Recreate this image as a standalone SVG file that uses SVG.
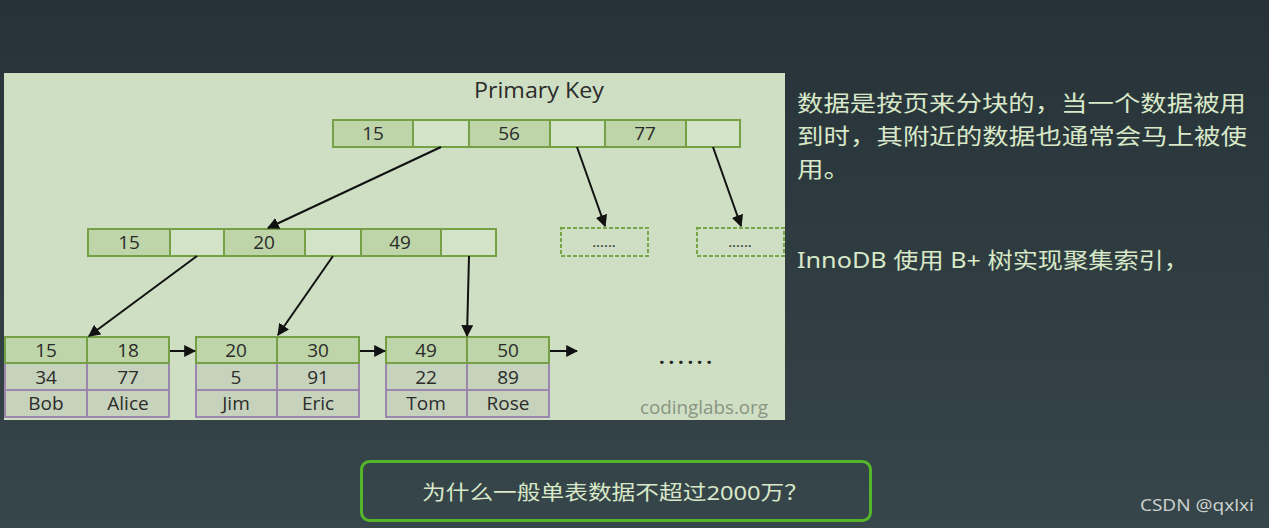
<svg xmlns="http://www.w3.org/2000/svg" width="1269" height="528" viewBox="0 0 1269 528">
<defs>
<linearGradient id="bg" x1="0" y1="0" x2="0" y2="1">
<stop offset="0" stop-color="#263237"/>
<stop offset="1" stop-color="#37464a"/>
</linearGradient>
<marker id="ah" viewBox="0 0 10 10" refX="9" refY="5" markerWidth="6" markerHeight="6" orient="auto" markerUnits="strokeWidth">
<path d="M0,0 L10,5 L0,10 z" fill="#111"/>
</marker>
<style>
.k{fill:#bdd5a8;stroke:#76a045;stroke-width:2}
.e{fill:#d3e3c8;stroke:#76a045;stroke-width:2}
.p{fill:#c6d2bc;stroke:#9b87ad;stroke-width:2}
.d{fill:none;stroke:#7aa64a;stroke-width:2;stroke-dasharray:4 2}
.t{font-family:"Open Sans","Noto Sans",sans-serif;font-size:19px;fill:#2b2b2b;text-anchor:middle}
.dt{font-family:"Open Sans","Noto Sans",sans-serif;font-size:15px;fill:#2b2b2b;text-anchor:middle}
.ln{stroke:#111;stroke-width:2;fill:none;marker-end:url(#ah)}
.cn{font-family:"Noto Sans","Noto Sans CJK SC",sans-serif;font-size:22px;fill:#d8e8c8}
</style>
</defs>
<rect width="1269" height="528" fill="url(#bg)"/>
<rect x="4" y="73" width="781" height="347" fill="#cfdfc3"/>
<text x="474" y="98" font-family="'Open Sans','Noto Sans',sans-serif" font-size="22" fill="#2b2b2b" textLength="130" lengthAdjust="spacingAndGlyphs">Primary Key</text>
<g id="root">
<rect class="k" x="333" y="120" width="80" height="27"/><rect class="e" x="413" y="120" width="56" height="27"/>
<rect class="k" x="469" y="120" width="81" height="27"/><rect class="e" x="550" y="120" width="55" height="27"/>
<rect class="k" x="605" y="120" width="81" height="27"/><rect class="e" x="686" y="120" width="54" height="27"/>
<text class="t" x="373" y="140">15</text><text class="t" x="509" y="140">56</text><text class="t" x="645" y="140">77</text>
</g>
<g id="mid">
<rect class="k" x="88" y="229" width="82" height="27"/><rect class="e" x="170" y="229" width="54" height="27"/>
<rect class="k" x="224" y="229" width="81" height="27"/><rect class="e" x="305" y="229" width="56" height="27"/>
<rect class="k" x="361" y="229" width="80" height="27"/><rect class="e" x="441" y="229" width="55" height="27"/>
<text class="t" x="129" y="249">15</text><text class="t" x="264" y="249">20</text><text class="t" x="400" y="249">49</text>
</g>
<g id="dash1"><rect class="d" x="561" y="228" width="87" height="28"/><text class="dt" x="604" y="247">......</text></g>
<g id="dash2"><rect class="d" x="697" y="228" width="87" height="28"/><text class="dt" x="740" y="247">......</text></g>
<g id="leaf1">
<rect class="p" x="5" y="363" width="82" height="27"/><rect class="p" x="87" y="363" width="82" height="27"/>
<rect class="p" x="5" y="390" width="82" height="27"/><rect class="p" x="87" y="390" width="82" height="27"/>
<rect class="k" x="5" y="337" width="82" height="26"/><rect class="k" x="87" y="337" width="82" height="26"/>
<text class="t" x="46" y="357">15</text><text class="t" x="128" y="357">18</text>
<text class="t" x="46" y="384">34</text><text class="t" x="128" y="384">77</text>
<text class="t" x="46" y="410">Bob</text><text class="t" x="128" y="410">Alice</text>
</g>
<g id="leaf2">
<rect class="p" x="196" y="363" width="81" height="27"/><rect class="p" x="277" y="363" width="82" height="27"/>
<rect class="p" x="196" y="390" width="81" height="27"/><rect class="p" x="277" y="390" width="82" height="27"/>
<rect class="k" x="196" y="337" width="81" height="26"/><rect class="k" x="277" y="337" width="82" height="26"/>
<text class="t" x="236" y="357">20</text><text class="t" x="318" y="357">30</text>
<text class="t" x="236" y="384">5</text><text class="t" x="318" y="384">91</text>
<text class="t" x="236" y="410">Jim</text><text class="t" x="318" y="410">Eric</text>
</g>
<g id="leaf3">
<rect class="p" x="386" y="363" width="81" height="27"/><rect class="p" x="467" y="363" width="82" height="27"/>
<rect class="p" x="386" y="390" width="81" height="27"/><rect class="p" x="467" y="390" width="82" height="27"/>
<rect class="k" x="386" y="337" width="81" height="26"/><rect class="k" x="467" y="337" width="82" height="26"/>
<text class="t" x="426" y="357">49</text><text class="t" x="508" y="357">50</text>
<text class="t" x="426" y="384">22</text><text class="t" x="508" y="384">89</text>
<text class="t" x="426" y="410">Tom</text><text class="t" x="508" y="410">Rose</text>
</g>
<g id="connectors">
<line class="ln" x1="441" y1="147" x2="268" y2="228"/>
<line class="ln" x1="577" y1="147" x2="605" y2="226"/>
<line class="ln" x1="713" y1="147" x2="741" y2="226"/>
<line class="ln" x1="197" y1="256" x2="89" y2="336"/>
<line class="ln" x1="333" y1="256" x2="278" y2="335"/>
<line class="ln" x1="469" y1="256" x2="467" y2="336"/>
<line class="ln" x1="170" y1="351" x2="195" y2="351"/>
<line class="ln" x1="360" y1="351" x2="385" y2="351"/>
<line class="ln" x1="550" y1="351" x2="577" y2="351"/>
</g>
<text x="659" y="364" font-family="'Open Sans',sans-serif" font-size="20" font-weight="bold" fill="#222" textLength="53" lengthAdjust="spacing">......</text>
<text x="640" y="414" font-family="'Open Sans',sans-serif" font-size="18" fill="#8a9484" textLength="128" lengthAdjust="spacingAndGlyphs">codinglabs.org</text>
<text class="cn" x="797" y="111" textLength="449" lengthAdjust="spacingAndGlyphs">数据是按页来分块的，当一个数据被用</text>
<text class="cn" x="797" y="144" textLength="450" lengthAdjust="spacingAndGlyphs">到时，其附近的数据也通常会马上被使</text>
<text class="cn" x="797" y="177" textLength="53" lengthAdjust="spacingAndGlyphs">用。</text>
<text class="cn" x="797" y="268" textLength="392" lengthAdjust="spacingAndGlyphs">InnoDB 使用 B+ 树实现聚集索引，</text>
<g id="question">
<rect x="361.5" y="461.5" width="509" height="59" rx="8" fill="none" stroke="#52b52a" stroke-width="3"/>
<text x="422" y="500" font-family="'Noto Sans','Noto Sans CJK SC',sans-serif" font-size="20" fill="#d8e8c8" textLength="386" lengthAdjust="spacingAndGlyphs">为什么一般单表数据不超过2000万？</text>
</g>
<text x="1140" y="511" font-family="'Noto Sans',sans-serif" font-size="17" fill="#c9d0cc" textLength="114" lengthAdjust="spacingAndGlyphs">CSDN @qxlxi</text>
</svg>
